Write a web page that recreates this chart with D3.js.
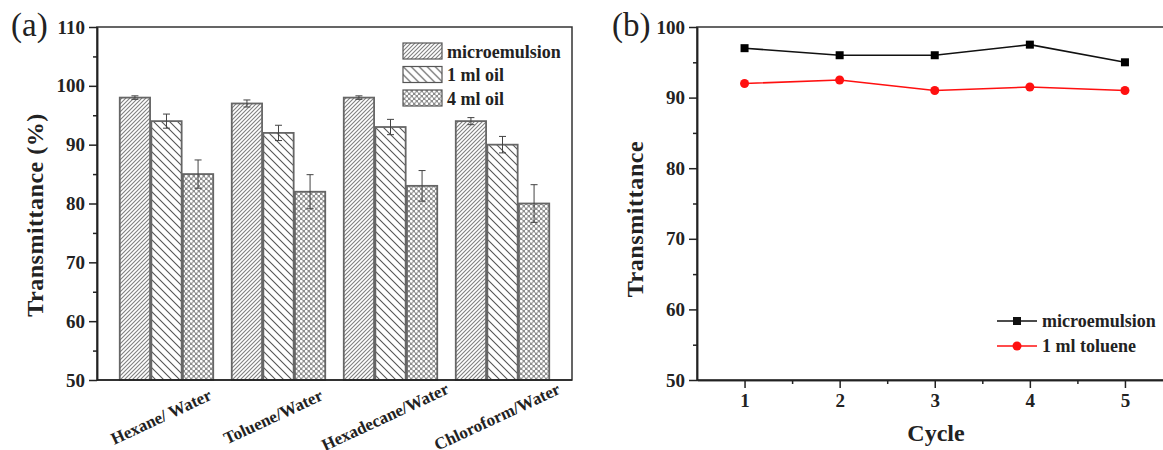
<!DOCTYPE html>
<html>
<head>
<meta charset="utf-8">
<script src="https://cdn.jsdelivr.net/npm/d3@7"></script>
<style>
  body { margin: 0; background: #fff; }
  svg { display: block; font-family: "Liberation Serif", "Times New Roman", serif; }
  .axis path, .axis line { stroke: #222; stroke-width: 1.5; }
  .axis text { font-size: 19px; font-weight: bold; fill: #222; font-family: "Liberation Serif", serif; }
</style>
</head>
<body>
<div id="chart"></div>
<script>
// panel (a) data
const categories = ["Hexane/ Water", "Toluene/Water", "Hexadecane/Water", "Chloroform/Water"];
const seriesA = ["microemulsion", "1 ml oil", "4 ml oil"];
const microValues = [98, 97, 98, 94];
const microErr = [0.3, 0.6, 0.3, 0.6];
const oil1Values = [94, 92, 93, 90];
const oil1Err = [1.2, 1.3, 1.3, 1.4];
const oil4Values = [85, 82, 83, 80];
const oil4Err = [2.4, 2.9, 2.6, 3.2];
const yTicksA = [50, 60, 70, 80, 90, 100, 110];

// panel (b) data
const cycles = [1, 2, 3, 4, 5];
const microCycle = [97, 96, 96, 97.5, 95];
const tolueneCycle = [92, 92.5, 91, 91.5, 91];
const yTicksB = [50, 60, 70, 80, 90, 100];

const width = 1163, height = 450;
const svg = d3.select("#chart").append("svg")
  .attr("width", width).attr("height", height);

// hatch patterns
const defs = svg.append("defs");
const p1 = defs.append("pattern").attr("id", "pMicro")
  .attr("patternUnits", "userSpaceOnUse").attr("width", 4).attr("height", 4);
p1.append("rect").attr("width", 4).attr("height", 4).attr("fill", "#fff");
p1.append("path").attr("d", "M-1,1 l2,-2 M0,4 l4,-4 M3,5 l2,-2")
  .attr("stroke", "#808080").attr("stroke-width", 1.1);

const p2 = defs.append("pattern").attr("id", "pOil1")
  .attr("patternUnits", "userSpaceOnUse").attr("width", 8).attr("height", 8);
p2.append("rect").attr("width", 8).attr("height", 8).attr("fill", "#fff");
p2.append("path").attr("d", "M-2,6 l4,4 M0,0 l8,8 M6,-2 l4,4")
  .attr("stroke", "#555").attr("stroke-width", 1.1);

const p3 = defs.append("pattern").attr("id", "pOil4")
  .attr("patternUnits", "userSpaceOnUse").attr("width", 5).attr("height", 5);
p3.append("rect").attr("width", 5).attr("height", 5).attr("fill", "#8e8e8e");
p3.append("circle").attr("cx", 1.25).attr("cy", 1.25).attr("r", 1.4).attr("fill", "#fff");
p3.append("circle").attr("cx", 3.75).attr("cy", 3.75).attr("r", 1.4).attr("fill", "#fff");

const fills = ["url(#pMicro)", "url(#pOil1)", "url(#pOil4)"];

// ---------- panel (a) ----------
const ax0 = 97, ax1 = 572, yTop = 27, yBot = 380;
const xA = d3.scaleBand().domain(categories).range([ax0, ax1])
  .paddingInner(0.143).paddingOuter(0.192);
const xSub = d3.scaleBand().domain(seriesA).range([0, xA.bandwidth()]).padding(0.04);
const yA = d3.scaleLinear().domain([50, 110]).range([yBot, yTop]);

const barsData = [];
const valueSets = [microValues, oil1Values, oil4Values];
const errSets = [microErr, oil1Err, oil4Err];
categories.forEach((c, i) => {
  seriesA.forEach((s, j) => {
    barsData.push({ cat: c, ser: s, j: j, v: valueSets[j][i], e: errSets[j][i] });
  });
});

const gA = svg.append("g");
gA.selectAll(".bar").data(barsData).enter().append("rect")
  .attr("x", d => xA(d.cat) + xSub(d.ser))
  .attr("y", d => yA(d.v))
  .attr("width", xSub.bandwidth())
  .attr("height", d => yBot - yA(d.v))
  .attr("fill", d => fills[d.j])
  .attr("stroke", "#666").attr("stroke-width", 1.8);

// error bars
const err = gA.selectAll(".err").data(barsData).enter().append("g")
  .attr("stroke", "#444").attr("stroke-width", 1);
err.append("line")
  .attr("x1", d => xA(d.cat) + xSub(d.ser) + xSub.bandwidth() / 2)
  .attr("x2", d => xA(d.cat) + xSub(d.ser) + xSub.bandwidth() / 2)
  .attr("y1", d => yA(d.v + d.e)).attr("y2", d => yA(d.v - d.e));
[1, -1].forEach(sgn => {
  err.append("line")
    .attr("x1", d => xA(d.cat) + xSub(d.ser) + xSub.bandwidth() / 2 - 3.5)
    .attr("x2", d => xA(d.cat) + xSub(d.ser) + xSub.bandwidth() / 2 + 3.5)
    .attr("y1", d => yA(d.v + sgn * d.e)).attr("y2", d => yA(d.v + sgn * d.e));
});

// frame
gA.append("rect").attr("x", ax0).attr("y", yTop)
  .attr("width", ax1 - ax0).attr("height", yBot - yTop)
  .attr("fill", "none").attr("stroke", "#333").attr("stroke-width", 1.5);

gA.append("g").attr("class", "axis")
  .attr("transform", `translate(${ax0},0)`)
  .call(d3.axisLeft(yA).tickValues(yTicksA).tickSize(8).tickSizeOuter(0).tickPadding(4));
gA.append("g").attr("class", "axis")
  .attr("transform", `translate(${ax0},0)`)
  .call(d3.axisLeft(yA).tickValues([55, 65, 75, 85, 95, 105]).tickSize(4).tickSizeOuter(0).tickFormat(""));
gA.append("line").attr("x1", ax0).attr("x2", ax1).attr("y1", yBot).attr("y2", yBot)
  .attr("stroke", "#222").attr("stroke-width", 1.5);

// category labels
gA.selectAll(".cat").data(categories).enter().append("text")
  .attr("transform", d => `translate(${xA(d) + xA.bandwidth() / 2 - 3},422) rotate(-25)`)
  .attr("text-anchor", "middle")
  .attr("font-size", 17).attr("font-weight", "bold").attr("fill", "#222")
  .text(d => d);

gA.append("text")
  .attr("transform", "translate(43,215) rotate(-90)")
  .attr("text-anchor", "middle")
  .attr("font-size", 24).attr("font-weight", "bold").attr("letter-spacing", 0.5).attr("fill", "#222")
  .text("Transmittance (%)");

gA.append("text").attr("x", 11).attr("y", 36)
  .attr("font-size", 33).attr("fill", "#222").text("(a)");

// legend (a)
const legA = gA.selectAll(".legA").data(seriesA).enter().append("g")
  .attr("transform", (d, i) => `translate(403,${43 + i * 23.5})`);
legA.append("rect").attr("width", 39).attr("height", 16)
  .attr("fill", (d, i) => fills[i]).attr("stroke", "#555").attr("stroke-width", 1.2);
legA.append("text").attr("x", 44).attr("y", 14.5)
  .attr("font-size", 18).attr("font-weight", "bold").attr("fill", "#222")
  .text(d => d);

// ---------- panel (b) ----------
const bx0 = 697;
const xB = d3.scaleLinear().domain([0.5, 5.5]).range([bx0, bx0 + 475.5]);
const yB = d3.scaleLinear().domain([50, 100]).range([yBot, yTop]);
const gB = svg.append("g");

gB.append("rect").attr("x", bx0).attr("y", yTop)
  .attr("width", xB(5.5) - bx0).attr("height", yBot - yTop)
  .attr("fill", "none").attr("stroke", "#333").attr("stroke-width", 1.5);

gB.append("g").attr("class", "axis")
  .attr("transform", `translate(${bx0},0)`)
  .call(d3.axisLeft(yB).tickValues(yTicksB).tickSize(8).tickSizeOuter(0).tickPadding(4));
gB.append("g").attr("class", "axis")
  .attr("transform", `translate(${bx0},0)`)
  .call(d3.axisLeft(yB).tickValues([55, 65, 75, 85, 95]).tickSize(4).tickSizeOuter(0).tickFormat(""));
gB.append("g").attr("class", "axis")
  .attr("transform", `translate(0,${yBot})`)
  .call(d3.axisBottom(xB).tickValues(cycles).tickSize(8).tickSizeOuter(0).tickPadding(6).tickFormat(d3.format("d")));
gB.append("g").attr("class", "axis")
  .attr("transform", `translate(0,${yBot})`)
  .call(d3.axisBottom(xB).tickValues([1.5, 2.5, 3.5, 4.5]).tickSize(4).tickSizeOuter(0).tickFormat(""));

const line = d3.line().x((d, i) => xB(cycles[i])).y(d => yB(d));
gB.append("path").datum(microCycle).attr("d", line)
  .attr("fill", "none").attr("stroke", "#111").attr("stroke-width", 1.6);
gB.append("path").datum(tolueneCycle).attr("d", line)
  .attr("fill", "none").attr("stroke", "#ff1010").attr("stroke-width", 1.6);
gB.selectAll(".sq").data(microCycle).enter().append("rect")
  .attr("x", (d, i) => xB(cycles[i]) - 4).attr("y", d => yB(d) - 4)
  .attr("width", 8).attr("height", 8).attr("fill", "#000");
gB.selectAll(".ci").data(tolueneCycle).enter().append("circle")
  .attr("cx", (d, i) => xB(cycles[i])).attr("cy", d => yB(d))
  .attr("r", 4.5).attr("fill", "#ff1010");

gB.append("text")
  .attr("transform", "translate(643,219) rotate(-90)")
  .attr("text-anchor", "middle")
  .attr("font-size", 24).attr("font-weight", "bold").attr("letter-spacing", 0.6).attr("fill", "#222")
  .text("Transmittance");
gB.append("text").attr("x", 936).attr("y", 441).attr("text-anchor", "middle")
  .attr("font-size", 24).attr("font-weight", "bold").attr("fill", "#222")
  .text("Cycle");
gB.append("text").attr("x", 612).attr("y", 36)
  .attr("font-size", 33).attr("fill", "#222").text("(b)");

// legend (b)
const legB = [
  { name: "microemulsion", color: "#111", shape: "square" },
  { name: "1 ml toluene", color: "#ff1010", shape: "circle" }
];
const lg = gB.selectAll(".legB").data(legB).enter().append("g")
  .attr("transform", (d, i) => `translate(997,${321 + i * 25})`);
lg.append("line").attr("x1", 0).attr("x2", 40)
  .attr("stroke", d => d.color).attr("stroke-width", 1.6);
lg.filter(d => d.shape === "square").append("rect")
  .attr("x", 16).attr("y", -4).attr("width", 8).attr("height", 8).attr("fill", d => d.color);
lg.filter(d => d.shape === "circle").append("circle")
  .attr("cx", 20).attr("r", 4.5).attr("fill", d => d.color);
lg.append("text").attr("x", 45).attr("y", 6)
  .attr("font-size", 18).attr("font-weight", "bold").attr("fill", "#222")
  .text(d => d.name);
</script>
</body>
</html>
